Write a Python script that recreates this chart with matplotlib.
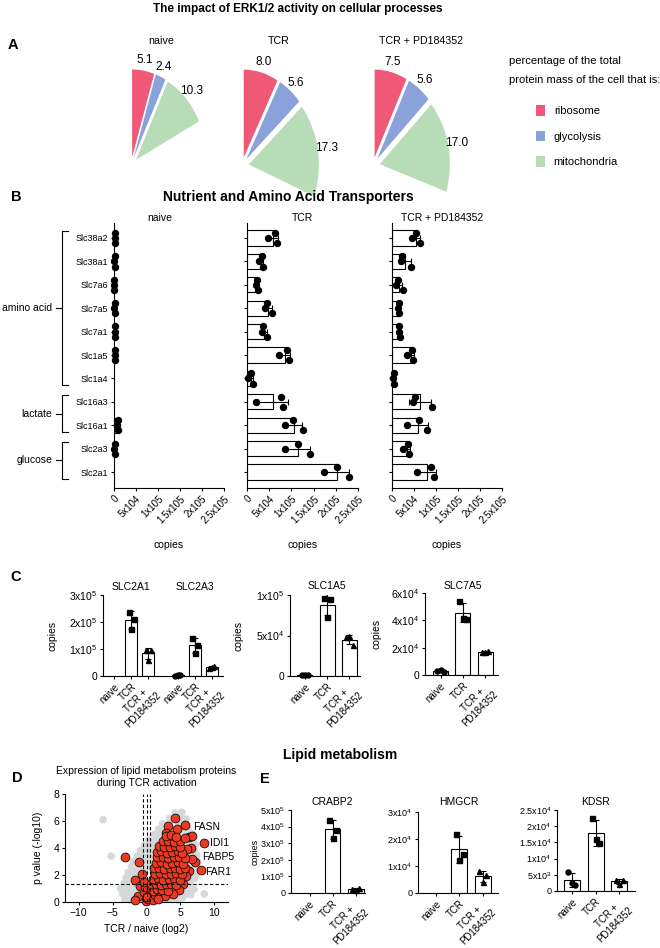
import warnings
import numpy as np
import matplotlib
matplotlib.use('Agg')
import matplotlib.pyplot as plt
import matplotlib.transforms as mtransforms
from matplotlib.patches import Patch

warnings.filterwarnings('ignore')

W, H = 660, 948
nan = np.nan

# ---------------- data ----------------
conditions = ['naive', 'TCR', 'TCR + PD184352']
bar_conditions = ['naive', 'TCR', 'TCR +\nPD184352']
cond_markers = ['o', 's', '^']

# A: percentage of total protein mass
processes = ['ribosome', 'glycolysis', 'mitochondria']
process_colors = ['#ef5877', '#8aa1d9', '#b8dcb8']
mass_naive = [5.1, 2.4, 10.3]
mass_tcr = [8.0, 5.6, 17.3]
mass_pd = [7.5, 5.6, 17.0]

# B: transporter copies, 3 replicates each
transporters = ['Slc38a2', 'Slc38a1', 'Slc7a6', 'Slc7a5', 'Slc7a1', 'Slc1a5',
                'Slc1a4', 'Slc16a3', 'Slc16a1', 'Slc2a3', 'Slc2a1']
transporter_groups = [('amino acid', 0, 6), ('lactate', 7, 8), ('glucose', 9, 10)]
copies_naive = [
    [1.5e3, 2.5e3, 3.0e3],
    [1.0e3, 2.0e3, 2.5e3],
    [0.5e3, 1.0e3, 1.0e3],
    [1.0e3, 2.0e3, 3.0e3],
    [1.5e3, 2.0e3, 3.0e3],
    [1.5e3, 2.5e3, 3.0e3],
    [nan, nan, nan],
    [nan, nan, nan],
    [6.0e3, 8.0e3, 9.5e3],
    [1.0e3, 1.5e3, 2.5e3],
    [nan, nan, nan],
]
copies_tcr = [
    [4.7e4, 6.3e4, 6.7e4],
    [2.7e4, 3.4e4, 3.6e4],
    [2.0e4, 2.3e4, 2.5e4],
    [4.0e4, 4.5e4, 5.6e4],
    [3.3e4, 3.7e4, 4.6e4],
    [7.3e4, 9.0e4, 9.5e4],
    [3.0e3, 8.0e3, 1.3e4],
    [2.0e4, 7.6e4, 8.0e4],
    [8.6e4, 1.04e5, 1.25e5],
    [8.6e4, 1.15e5, 1.42e5],
    [1.74e5, 2.03e5, 2.30e5],
]
copies_pd = [
    [4.5e4, 5.4e4, 6.4e4],
    [2.0e4, 2.3e4, 4.4e4],
    [0.9e4, 1.4e4, 2.4e4],
    [1.3e4, 1.5e4, 1.7e4],
    [1.6e4, 1.7e4, 1.9e4],
    [3.5e4, 4.5e4, 4.8e4],
    [2.5e3, 3.5e3, 5.0e3],
    [4.8e4, 5.2e4, 9.2e4],
    [3.5e4, 6.2e4, 7.9e4],
    [2.6e4, 3.7e4, 3.9e4],
    [5.6e4, 8.9e4, 9.5e4],
]
b_ticks = [0, 5e4, 1e5, 1.5e5, 2e5, 2.5e5]
b_ticklabels = ['0', '5x104', '1x105', '1.5x105', '2x105', '2.5x105']

# C: selected transporters (naive, TCR, TCR+PD)
slc2a1 = [[nan, nan, nan], [2.38e5, 2.10e5, 1.73e5], [9.6e4, 9.6e4, 5.9e4]]
slc2a3 = [[1.5e3, 2.5e3, 2.0e3], [1.40e5, 1.15e5, 8.6e4], [3.0e4, 3.8e4, 3.4e4]]
slc1a5 = [[1.0e3, 1.5e3, 0.8e3], [9.6e4, 9.5e4, 7.3e4], [4.8e4, 3.8e4, 4.9e4]]
slc7a5 = [[3.0e3, 2.0e3, 3.5e3], [5.4e4, 4.1e4, 4.2e4], [1.7e4, 1.75e4, 1.65e4]]

# E: lipid metabolism proteins
crabp2 = [[nan, nan, nan], [4.4e5, 3.8e5, 3.3e5], [2.5e4, 3.0e4, 2.0e4]]
hmgcr = [[nan, nan, nan], [2.17e4, 1.43e4, 1.24e4], [8.1e3, 6.6e3, 4.1e3]]
kdsr = [[5.9e3, 1.8e3, 2.5e3], [2.24e4, 1.49e4, 1.62e4], [3.5e3, 3.3e3, 2.1e3]]

# D: volcano (log2 TCR/naive, -log10 p)
lipid_points = [
    (-3.1, 3.3), (-1.1, 3.0), (-0.7, 2.05), (-1.7, 1.65), (-1.0, 1.2), (-1.2, 0.45),
    (-1.75, 0.12), (-0.4, 0.75), (-0.25, 1.1), (-0.1, 0.05), (0.25, 0.25), (0.5, 0.6),
    (0.0, 0.4), (1.0, 0.15), (0.6, 1.0), (-0.3, 1.45),
    (4.2, 6.2), (3.1, 5.6), (4.5, 5.4), (5.6, 5.7), (2.9, 5.1), (6.2, 4.85), (6.7, 4.9),
    (8.5, 4.4), (6.6, 4.0), (7.2, 3.0), (6.7, 3.15), (8.0, 2.4), (5.9, 3.9), (6.3, 2.3),
    (5.4, 1.3), (4.8, 0.9), (3.9, 0.6), (5.8, 1.9),
    (1.3, 0.5), (2.0, 0.6), (2.7, 0.45), (1.7, 0.2),
    (0.9, 0.85), (1.6, 0.95), (2.3, 0.9), (3.1, 0.8),
    (0.7, 1.35), (1.4, 1.3), (2.1, 1.25), (2.8, 1.35), (3.6, 1.3), (4.4, 1.25),
    (1.0, 1.7), (1.7, 1.75), (2.5, 1.65), (3.3, 1.7), (4.1, 1.75), (4.9, 1.65),
    (1.2, 2.1), (2.0, 2.15), (2.8, 2.05), (3.6, 2.1), (4.4, 2.15), (5.2, 2.05),
    (1.1, 2.5), (1.8, 2.55), (2.6, 2.45), (3.4, 2.5), (4.2, 2.55), (5.0, 2.45), (5.7, 2.5),
    (1.4, 2.9), (2.2, 2.95), (3.0, 2.85), (3.8, 2.9), (4.6, 2.95), (5.4, 2.85),
    (1.6, 3.3), (2.4, 3.35), (3.2, 3.25), (4.0, 3.3), (4.8, 3.35), (5.6, 3.25),
    (1.5, 3.7), (2.2, 3.75), (3.0, 3.65), (3.8, 3.7), (4.6, 3.75), (5.3, 3.65),
    (1.8, 4.15), (2.6, 4.05), (3.4, 4.1), (4.2, 4.15), (5.0, 4.05),
    (2.4, 4.5), (3.2, 4.55), (4.0, 4.45), (4.9, 4.5), (5.6, 4.75),
    (2.8, 4.9), (3.6, 4.95), (4.4, 4.85),
]
other_points = [
    (-3.2, 0.2), (-2.4, 0.15), (-0.9, 0.25), (0.6, 0.1), (1.4, 0.3), (2.2, 0.15),
    (3.0, 0.2), (3.8, 0.25), (4.6, 0.15), (5.3, 0.3),
    (-3.5, 0.6), (-2.6, 0.65), (-1.8, 0.55), (-0.7, 0.6), (1.0, 0.6), (2.9, 0.65),
    (3.7, 0.55), (4.5, 0.6), (5.8, 0.6), (6.5, 0.55), (8.5, 0.6),
    (-3.8, 1.0), (-2.9, 1.05), (-2.0, 0.95), (-1.4, 1.0), (3.6, 1.0), (4.4, 0.95),
    (5.2, 1.05), (6.2, 1.0), (7.0, 0.95),
    (-3.3, 1.4), (-2.5, 1.45), (-1.9, 1.35), (4.8, 1.4), (5.6, 1.45), (6.4, 1.35),
    (-3.0, 1.8), (-2.2, 1.85), (-1.3, 1.75), (5.6, 1.8), (6.4, 1.85), (7.1, 1.75),
    (-2.7, 2.2), (-1.9, 2.25), (-1.2, 2.15), (-0.3, 2.2), (5.8, 2.2), (6.6, 2.25), (7.3, 2.15),
    (-2.2, 2.6), (-1.5, 2.65), (-0.6, 2.55), (0.3, 2.6), (6.3, 2.6), (7.0, 2.65),
    (-1.9, 3.0), (-0.2, 3.05), (0.6, 2.95), (6.0, 3.0), (6.9, 3.05), (7.6, 2.95),
    (-5.2, 3.4), (-1.4, 3.4), (-0.5, 3.45), (0.5, 3.35), (6.6, 3.4), (7.4, 3.45),
    (-0.9, 3.8), (0.1, 3.85), (0.8, 3.75), (6.1, 3.8), (7.0, 3.85),
    (-0.3, 4.2), (0.6, 4.25), (1.2, 4.15), (6.4, 4.2), (7.2, 4.25),
    (0.4, 4.6), (1.4, 4.65), (5.6, 4.55), (6.4, 4.6),
    (1.2, 5.0), (2.0, 5.05), (5.0, 4.95), (5.9, 5.0), (6.7, 5.05),
    (1.8, 5.4), (2.5, 5.45), (5.2, 5.35), (6.1, 5.4),
    (2.4, 5.8), (3.3, 5.85), (4.8, 5.75), (5.6, 5.8),
    (-6.4, 6.1), (3.4, 6.2), (5.0, 6.25), (5.8, 6.15),
    (4.2, 6.6), (5.2, 6.65),
]
volcano_labels = ['FASN', 'IDI1', 'FABP5', 'FAR1']
volcano_label_xy = [(6.9, 5.55), (9.4, 4.4), (8.2, 3.3), (8.7, 2.25)]
p_threshold = 1.3
fc_thresholds = [-0.58, 0.0, 0.58]

# ---------------- style ----------------
plt.rcParams['font.family'] = ['Liberation Sans', 'DejaVu Sans']
plt.rcParams['mathtext.default'] = 'regular'
plt.rcParams['axes.linewidth'] = 0.8
for a in ('xtick', 'ytick'):
    plt.rcParams[a + '.major.width'] = 0.8
    plt.rcParams[a + '.major.size'] = 2.5
    plt.rcParams[a + '.major.pad'] = 1.5
    plt.rcParams[a + '.color'] = 'black'


def add_axes_px(fig, x0, y0, x1, y1):
    return fig.add_axes([x0 / W, 1 - y1 / H, (x1 - x0) / W, (y1 - y0) / H])


def fig_text(fig, x, y, s, **kw):
    kw.setdefault('ha', 'center')
    kw.setdefault('va', 'center')
    return fig.text(x / W, 1 - y / H, s, **kw)


def mean_sd(reps):
    arr = np.asarray(reps, dtype=float)
    if np.all(np.isnan(arr)):
        return nan, nan
    return np.nanmean(arr), np.nanstd(arr, ddof=1)


def clean_axes(ax):
    ax.spines['top'].set_visible(False)
    ax.spines['right'].set_visible(False)


def draw_pie(ax, vals):
    values = list(vals) + [100 - sum(vals)]
    wedges, texts = ax.pie(values, colors=process_colors + ['white'],
                           explode=[0.1, 0.1, 0.1, 0.0], startangle=90,
                           counterclock=False, labels=['%.1f' % v for v in vals] + [''],
                           labeldistance=1.12, wedgeprops=dict(linewidth=0),
                           textprops=dict(fontsize=8.5))
    wedges[-1].set_visible(False)
    for t in texts:
        t.set_ha('center')
        t.set_va('center')
    ax.set_aspect('auto')
    ax.set_xlim(-1.4, 1.4)
    ax.set_ylim(-1.4, 1.4)
    ax.axis('off')


def draw_transporters(ax, reps, title, title_x, show_labels):
    reps = np.asarray(reps, dtype=float)
    y = np.arange(len(transporters))
    stats = np.array([mean_sd(r) for r in reps])
    ax.barh(y, stats[:, 0], height=0.65, color='white', edgecolor='black', linewidth=0.8, zorder=2)
    ax.errorbar(stats[:, 0], y, xerr=stats[:, 1], fmt='none', ecolor='black',
                elinewidth=0.8, capsize=2.5, capthick=0.8, zorder=3)
    for j, dy in enumerate([0.0, -0.22, 0.22]):
        ax.plot(reps[:, j], y + dy, 'o', color='black', ms=4.3, zorder=4, clip_on=False)
    ax.set_ylim(len(transporters) - 0.32, -0.64)
    ax.set_xlim(0, 2.5e5)
    ax.set_yticks(y)
    ax.set_yticklabels(transporters if show_labels else [], fontsize=6.5)
    ax.set_xticks(b_ticks)
    ax.set_xticklabels(b_ticklabels, rotation=45, ha='right', rotation_mode='anchor', fontsize=7)
    ax.set_xlabel('copies', fontsize=7.5)
    ax.xaxis.set_label_coords(0.5, -0.196)
    ax.text(title_x, 1.019, title, transform=ax.transAxes, ha='center', va='center', fontsize=7.5)
    clean_axes(ax)


def draw_bars(ax, datasets, positions, xlim, ylim, yticks, yticklabels, titles, title_y,
              ylabel_x=None, tick_fs=7.5):
    for k, data in enumerate(datasets):
        for i, reps in enumerate(data):
            x = positions[k * 3 + i]
            m, sd = mean_sd(reps)
            ax.bar(x, m, width=0.68, color='white', edgecolor='black', linewidth=0.8, zorder=2)
            ax.errorbar(x, m, yerr=sd, fmt='none', ecolor='black', elinewidth=0.8,
                        capsize=2.5, capthick=0.8, zorder=3)
            for dx, v in zip([-0.15, 0.15, 0.0], reps):
                ax.plot(x + dx, v, cond_markers[i], color='black', ms=3.6, zorder=4, clip_on=False)
        trans = mtransforms.blended_transform_factory(ax.transData, ax.transAxes)
        ax.text(positions[k * 3 + 1], title_y, titles[k], transform=trans,
                ha='center', va='center', fontsize=7.5)
    ax.set_xlim(*xlim)
    ax.set_ylim(*ylim)
    ax.set_yticks(yticks)
    ax.set_yticklabels(yticklabels, fontsize=tick_fs)
    ax.set_xticks(positions)
    ax.set_xticklabels(bar_conditions * len(datasets), rotation=45, ha='right',
                       rotation_mode='anchor', multialignment='center', fontsize=7)
    if ylabel_x is not None:
        ax.set_ylabel('copies', fontsize=tick_fs)
        ax.yaxis.set_label_coords(ylabel_x, 0.5)
    clean_axes(ax)


fig = plt.figure(figsize=(W / 100, H / 100), dpi=100)

# ---------------- A ----------------
fig_text(fig, 298, 9, 'The impact of ERK1/2 activity on cellular processes', fontsize=8.5,
         fontweight='bold')
fig_text(fig, 13, 45, 'A', fontsize=10.5, fontweight='bold')
for vals, cx, title, tx in zip([mass_naive, mass_tcr, mass_pd], [131, 242, 373],
                               conditions, [161, 279, 421]):
    ax = add_axes_px(fig, cx - 98, 166 - 123, cx + 98, 166 + 123)
    draw_pie(ax, vals)
    fig_text(fig, tx, 41, title, fontsize=7.7, fontweight='normal')

fig_text(fig, 509, 61, 'percentage of the total', ha='left', fontsize=8)
fig_text(fig, 509, 80, 'protein mass of the cell that is:', ha='left', fontsize=8)
handles = [Patch(facecolor=c, edgecolor='none') for c in process_colors]
fig.legend(handles, processes, loc='upper left', bbox_to_anchor=(536 / W, 1 - 105 / H),
           frameon=False, fontsize=8, handlelength=0.8, handleheight=1.1,
           handletextpad=0.8, labelspacing=1.3, borderaxespad=0, borderpad=0)

# ---------------- B ----------------
fig_text(fig, 16, 197, 'B', fontsize=10.5, fontweight='bold')
fig_text(fig, 288, 197, 'Nutrient and Amino Acid Transporters', fontsize=10, fontweight='bold')
b_frames = [(114, 224), (247, 358), (392, 502)]
b_title_x = [0.42, 0.5, 0.46]
for k, (reps, (x0, x1)) in enumerate(zip([copies_naive, copies_tcr, copies_pd], b_frames)):
    ax = add_axes_px(fig, x0, 223, x1, 488)
    draw_transporters(ax, reps, conditions[k], b_title_x[k], k == 0)
    if k == 0:
        trans = mtransforms.blended_transform_factory(ax.transAxes, ax.transData)
        for name, i0, i1 in transporter_groups:
            top, bot = i0 - 0.3, i1 + 0.3
            ax.plot([-0.42, -0.47, -0.47, -0.42], [top, top, bot, bot], transform=trans,
                    color='black', lw=0.8, clip_on=False)
            mid = (i0 + i1) / 2
            ax.plot([-0.53, -0.47], [mid, mid], transform=trans, color='black', lw=0.8,
                    clip_on=False)
            ax.text(-0.56, mid, name, transform=trans, ha='right', va='center', fontsize=7.5)

# ---------------- C ----------------
fig_text(fig, 16, 577, 'C', fontsize=10.5, fontweight='bold')
ax = add_axes_px(fig, 103, 595, 223, 676)
draw_bars(ax, [slc2a1, slc2a3], [0, 1, 2, 3.75, 4.75, 5.75], (-0.65, 6.4), (0, 3e5),
          [0, 1e5, 2e5, 3e5], ['0', '1x10$^5$', '2x10$^5$', '3x10$^5$'],
          ['SLC2A1', 'SLC2A3'], 1.1, ylabel_x=-0.383)
ax = add_axes_px(fig, 290, 595, 360, 676)
draw_bars(ax, [slc1a5], [0, 1, 2], (-0.67, 2.48), (0, 1e5),
          [0, 5e4, 1e5], ['0', '5x10$^4$', '1x10$^5$'], ['SLC1A5'], 1.11, ylabel_x=-0.67)
ax = add_axes_px(fig, 425, 593, 498, 675)
draw_bars(ax, [slc7a5], [0, 1, 2], (-0.7, 2.58), (0, 6e4),
          [0, 2e4, 4e4, 6e4], ['0', '2x10$^4$', '4x10$^4$', '6x10$^4$'], ['SLC7A5'], 1.08,
          ylabel_x=-0.593)

# ---------------- D ----------------
fig_text(fig, 340, 755, 'Lipid metabolism', fontsize=10, fontweight='bold')
fig_text(fig, 17, 778, 'D', fontsize=10.5, fontweight='bold')
fig_text(fig, 265, 779, 'E', fontsize=10.5, fontweight='bold')
ax = add_axes_px(fig, 65, 794, 228, 902)
gx, gy = zip(*other_points)
rx, ry = zip(*lipid_points)
ax.scatter(gx, gy, s=30, color='#d5d8d8', edgecolors='none', zorder=1, clip_on=False)
ax.scatter(rx, ry, s=40, color='#ec3b24', edgecolors='#1a0a06', linewidths=0.6, zorder=3,
           clip_on=False)
ax.axhline(p_threshold, color='black', lw=0.8, ls=(0, (3, 2)), zorder=4)
for fc in fc_thresholds:
    ax.axvline(fc, color='black', lw=0.8, ls=(0, (3, 2)), zorder=4)
for name, (lx, ly) in zip(volcano_labels, volcano_label_xy):
    ax.text(lx, ly, name, ha='left', va='center', fontsize=7.5, zorder=5)
ax.set_xlim(-12, 12)
ax.set_ylim(0, 8)
ax.set_xticks([-10, -5, 0, 5, 10])
ax.set_yticks([0, 2, 4, 6, 8])
ax.tick_params(labelsize=7.5)
ax.set_xlabel('TCR / naive (log2)', fontsize=7.5)
ax.set_ylabel('p value (-log10)', fontsize=7.5)
ax.xaxis.set_label_coords(0.5, -0.2)
ax.yaxis.set_label_coords(-0.135, 0.5)
ax.text(0.5, 1.162, 'Expression of lipid metabolism proteins\nduring TCR activation',
        transform=ax.transAxes, ha='center', va='center', fontsize=7.5, linespacing=1.25)
clean_axes(ax)

# ---------------- E ----------------
ax = add_axes_px(fig, 291, 810, 365, 893)
draw_bars(ax, [crabp2], [0, 1, 2], (-0.8, 2.4), (0, 5e5),
          [0, 1e5, 2e5, 3e5, 4e5, 5e5],
          ['0', '1x10$^5$', '2x10$^5$', '3x10$^5$', '4x10$^5$', '5x10$^5$'],
          ['CRABP2'], 1.1, ylabel_x=-0.43, tick_fs=6.5)
ax = add_axes_px(fig, 418, 812, 498, 893)
draw_bars(ax, [hmgcr], [0, 1, 2], (-0.75, 2.64), (0, 3e4),
          [0, 1e4, 2e4, 3e4], ['0', '1x10$^4$', '2x10$^4$', '3x10$^4$'],
          ['HMGCR'], 1.127, tick_fs=6.5)
ax = add_axes_px(fig, 557, 810, 635, 891)
draw_bars(ax, [kdsr], [0, 1, 2], (-0.63, 2.66), (0, 2.5e4),
          [0, 5e3, 1e4, 1.5e4, 2e4, 2.5e4],
          ['0', '5x10$^3$', '1x10$^4$', '1.5x10$^4$', '2x10$^4$', '2.5x10$^4$'],
          ['KDSR'], 1.1, tick_fs=6.5)

fig.savefig('out.png', dpi=100)
